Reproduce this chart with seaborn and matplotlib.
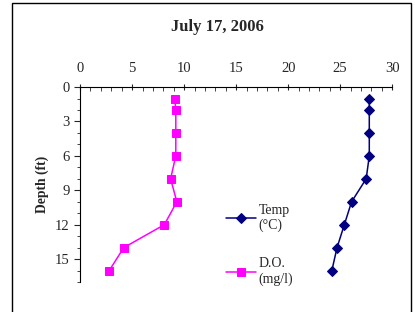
import numpy as np
import pandas as pd
import matplotlib.pyplot as plt
import seaborn as sns
from matplotlib.ticker import MultipleLocator
from matplotlib.patches import Rectangle

# veriler
depth = [1, 2, 4, 6, 8, 10, 12, 14, 16]
temp = [27.8, 27.8, 27.8, 27.8, 27.5, 26.1, 25.4, 24.7, 24.2]
do_mgl = [9.1, 9.2, 9.2, 9.2, 8.7, 9.3, 8.1, 4.2, 2.8]

sns.set_style('white')
plt.rcParams['font.family'] = ['Liberation Serif', 'DejaVu Serif']

fig = plt.figure(figsize=(4.15, 3.12), dpi=100)
ax = fig.add_axes([0.193, 0.096, 0.752, 0.625])

# derinlik eksenine göre çiziyorum (toplama yapmadan)
sns.lineplot(x=temp, y=depth, sort=False, estimator=None, orient='y',
             color='#000080', marker='D', markersize=5.5,
             markeredgecolor='#000080', linewidth=1.1,
             label='Temp\n(°C)', ax=ax)
sns.lineplot(x=do_mgl, y=depth, sort=False, estimator=None, orient='y',
             color='#FF00FF', marker='s', markersize=5.5,
             markeredgecolor='#FF00FF', linewidth=1.1,
             label='D.O.\n(mg/l)', ax=ax)

ax.set_xlim(0, 30)
ax.set_ylim(17, 0)
ax.xaxis.tick_top()
ax.xaxis.set_major_locator(MultipleLocator(5))
ax.xaxis.set_minor_locator(MultipleLocator(1))
ax.yaxis.set_major_locator(MultipleLocator(3))
ax.yaxis.set_minor_locator(MultipleLocator(1))
ax.tick_params(axis='x', which='major', direction='inout', length=5, width=0.8,
               labelsize=10.5, pad=6, top=True, bottom=False)
ax.tick_params(axis='x', which='minor', direction='in', length=3, width=0.6,
               top=True, bottom=False)
ax.tick_params(axis='y', which='major', direction='out', length=4, width=0.8,
               labelsize=10.5, left=True)
ax.tick_params(axis='y', which='minor', direction='out', length=2.5, width=0.6,
               left=True)
for s in ['right', 'bottom']:
    ax.spines[s].set_visible(False)
for s in ['left', 'top']:
    ax.spines[s].set_color('black')
    ax.spines[s].set_linewidth(0.8)

ax.set_ylabel('Depth (ft)', fontsize=9.8, fontweight='bold', labelpad=4)
ax.set_xlabel('')

ax.legend(loc='center left', bbox_to_anchor=(0.428, 0.19), frameon=False,
          fontsize=10, labelspacing=1.8, handlelength=2.15,
          handletextpad=0.2)

fig.text(0.523, 0.915, 'July 17, 2006', ha='center', va='center',
         fontsize=12, fontweight='bold')

# şekil çerçevesi
fig.patches.append(Rectangle((12 / 415, -0.05), 399 / 415, 1.04,
                             transform=fig.transFigure, fill=False,
                             edgecolor='black', linewidth=1.0))

plt.savefig('out.png', dpi=100)
plt.close()
